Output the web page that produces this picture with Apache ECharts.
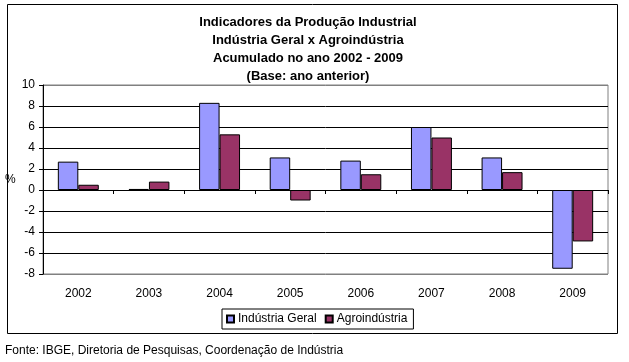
<!DOCTYPE html>
<html><head><meta charset="utf-8">
<script src="https://cdn.jsdelivr.net/npm/echarts@6/dist/echarts.min.js"></script>
<style>html,body{margin:0;padding:0;background:#fff}#c{width:629px;height:362px}</style>
</head><body><div id="c"></div>
<script>
var categories = ['2002','2003','2004','2005','2006','2007','2008','2009'];
var industriaGeral = [2.7, 0.1, 8.3, 3.1, 2.8, 6.0, 3.1, -7.5];
var agroindustria = [0.5, 0.8, 5.3, -1.0, 1.5, 5.0, 1.7, -4.9];
var seriesNames = ['Indústria Geral', 'Agroindústria'];
var titleLines = ['Indicadores da Produção Industrial', 'Indústria Geral x Agroindústria', 'Acumulado no ano 2002 - 2009', '(Base: ano anterior)'];
var sourceText = 'Fonte: IBGE, Diretoria de Pesquisas, Coordenação de Indústria';

var FONT = '"Liberation Sans", Arial, sans-serif';
var chart = echarts.init(document.getElementById('c'));
var gridColors = ['#808080','#000','#000','#000','#000','#000','#000','#000','#000','#808080'];
chart.setOption({
  animation: false,
  textStyle: {fontFamily: FONT, color: '#000'},
  title: {
    text: titleLines.join('\n'),
    left: 303, top: 8, textAlign: 'center',
    textStyle: {fontSize: 13, fontWeight: 'bold', lineHeight: 18, color: '#000', fontFamily: FONT}
  },
  grid: {left: 43, right: 21, top: 85, bottom: 88, show: true, borderColor: '#808080', borderWidth: 1},
  legend: {
    data: seriesNames,
    left: 222, top: 309,
    itemWidth: 7, itemHeight: 7, itemGap: 8,
    padding: [4, 6, 4, 4],
    borderColor: '#000', borderWidth: 1,
    textStyle: {fontSize: 12, color: '#000', fontFamily: FONT, padding: [0,0,0,-1]},
    icon: 'rect'
  },
  xAxis: [{
    type: 'category', data: categories, position: 'bottom',
    axisLine: {show: false, onZero: false},
    axisTick: {show: false},
    axisLabel: {fontSize: 12, color: '#000', margin: 14}
  }, {
    type: 'category', data: categories, position: 'bottom',
    axisLine: {show: true, onZero: true, lineStyle: {color: '#000', width: 1}},
    axisTick: {show: true, length: 4, lineStyle: {color: '#000'}},
    axisLabel: {show: false}
  }],
  yAxis: {
    type: 'value', min: -8, max: 10, interval: 2,
    name: '%', nameLocation: 'middle', nameRotate: 0, nameGap: 27,
    nameTextStyle: {fontSize: 12, color: '#000', padding: [6, 0, 0, 0]},
    axisLine: {show: true, lineStyle: {color: '#000'}},
    axisTick: {show: true, length: 4, lineStyle: {color: '#000'}},
    axisLabel: {fontSize: 12, color: '#000', margin: 8},
    splitLine: {show: true, lineStyle: {color: gridColors, width: 1}}
  },
  series: [{
    name: seriesNames[0], type: 'bar', data: industriaGeral,
    barGap: '0%', barCategoryGap: '42%',
    itemStyle: {color: '#9999FF', borderColor: '#000', borderWidth: 1}
  }, {
    name: seriesNames[1], type: 'bar', data: agroindustria,
    itemStyle: {color: '#993366', borderColor: '#000', borderWidth: 1}
  }],
  graphic: [{
    type: 'rect', shape: {x: 7.5, y: 4.5, width: 610, height: 329},
    style: {fill: 'none', stroke: '#000', lineWidth: 1}, silent: true, z: -1
  }, {
    type: 'text', left: 5, top: 345,
    style: {text: sourceText, fontSize: 12, fill: '#000', fontFamily: FONT}
  }]
});
</script></body></html>
